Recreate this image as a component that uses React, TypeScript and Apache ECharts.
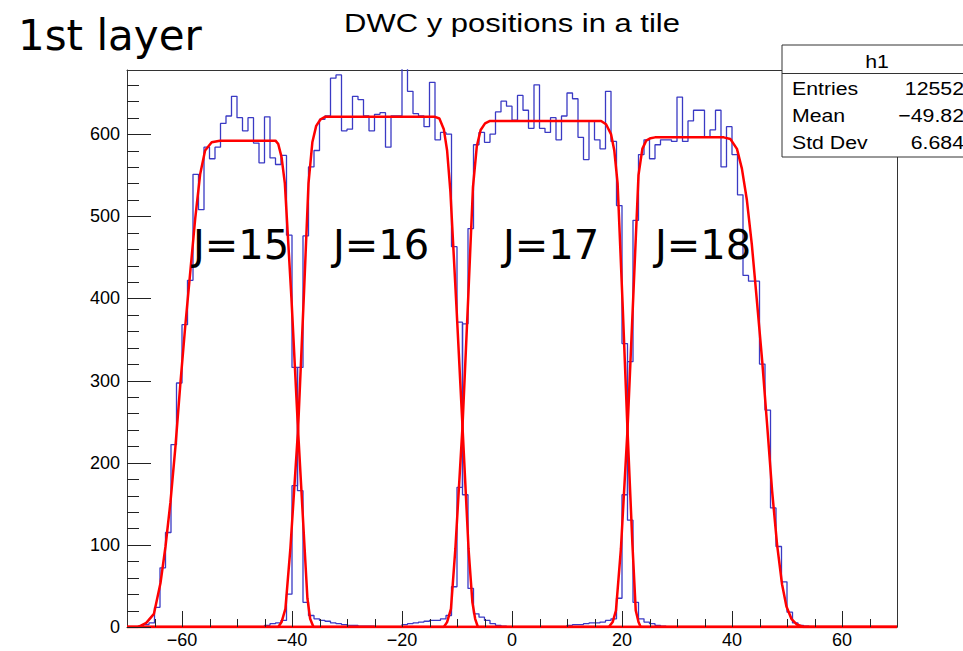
import React, { useEffect, useRef } from 'react';
import * as echarts from 'echarts';

// ---------- axes ----------
const X_MIN = -70;
const X_MAX = 70;
const Y_MIN = 0;
const Y_MAX = 678;

const xMajorTicks = [-60, -40, -20, 0, 20, 40, 60];
const xMinorTicks = [-65, -55, -50, -45, -35, -30, -25, -15, -10, -5, 5, 10, 15, 25, 30, 35, 45, 50, 55, 65];
const yMajorTicks = [0, 100, 200, 300, 400, 500, 600];
const yMinorTicks = [20, 40, 60, 80, 120, 140, 160, 180, 220, 240, 260, 280, 320, 340, 360, 380, 420, 440, 460, 480, 520, 540, 560, 580, 620, 640, 660];

// ---------- histograms (bin width 1, first bin low edge + counts) ----------
const j15Start = -68;
const j15Counts = [1, 3, 5, 24, 72, 115, 222, 297, 368, 422, 551, 508, 584, 570, 584, 613, 622, 646, 620, 604, 620, 589, 565, 621, 571, 563, 574, 477, 316, 166, 30, 14, 10, 8, 7, 5, 4, 3, 2, 2, 1, 1, 1];

const j16Start = -45;
const j16Counts = [2, 4, 5, 8, 40, 172, 316, 476, 560, 580, 618, 622, 668, 672, 604, 606, 646, 642, 622, 604, 624, 626, 584, 622, 622, 680, 652, 625, 622, 609, 663, 593, 602, 600, 463, 371, 161, 47, 16, 12, 8, 4, 2, 1];

const j17Start = -20;
const j17Counts = [3, 4, 5, 6, 7, 8, 8, 10, 14, 49, 170, 369, 485, 587, 602, 590, 600, 627, 640, 634, 617, 647, 629, 607, 660, 607, 602, 620, 593, 622, 650, 643, 596, 569, 616, 593, 582, 652, 591, 513, 345, 130, 30, 10, 6, 4, 2, 1];

const j18Start = 10;
const j18Counts = [2, 3, 3, 4, 5, 5, 6, 8, 10, 35, 161, 323, 495, 575, 593, 570, 587, 593, 593, 591, 645, 591, 616, 629, 629, 597, 605, 629, 560, 609, 575, 526, 428, 421, 421, 320, 264, 145, 98, 55, 18, 5, 2, 1];

// ---------- fit curves ----------
const fit15X = [-70, -68, -66.5, -65.1, -63.9, -63.0, -62.1, -61.2, -60.3, -59.4, -58.5, -57.6, -56.7, -55.8, -54.6, -53.1, -43.0, -42.5, -41.9, -41.3, -40.1, -38.9, -37.7, -37.2, -36.7, -36.1, 70];
const fit15Y = [0, 0, 5, 16, 54, 98, 152, 219, 296, 367, 432, 497, 551, 580, 590, 592, 592, 588, 572, 540, 400, 240, 95, 35, 10, 0, 0];

const fit16X = [-70, -42.5, -41.9, -41.2, -40.3, -38.9, -37.8, -37.0, -36.3, -35.6, -34.8, -34.0, -14.0, -13.2, -12.4, -11.8, -11.2, -10.1, -9.0, -7.9, -7.2, -6.7, -6.2, 70];
const fit16Y = [0, 0, 6, 22, 95, 240, 410, 540, 590, 610, 618, 621, 621, 619, 606, 580, 530, 390, 244, 95, 30, 10, 0, 0];

const fit17X = [-70, -12.4, -11.8, -11.1, -10.3, -9.0, -7.9, -7.1, -6.4, -5.7, -4.9, -4.0, 16.2, 17.1, 18.0, 18.6, 19.2, 20.1, 21.0, 21.9, 22.5, 23.0, 23.4, 70];
const fit17Y = [0, 0, 6, 22, 95, 244, 410, 535, 585, 605, 613, 616, 616, 612, 600, 580, 540, 395, 240, 100, 20, 6, 0, 0];

const fit18X = [-70, 17.6, 18.3, 18.9, 19.8, 21.0, 22.1, 23.0, 23.7, 24.4, 25.2, 26.0, 38.5, 39.7, 40.9, 41.8, 42.7, 43.6, 44.5, 45.5, 46.4, 47.3, 48.2, 49.1, 49.9, 50.8, 51.8, 53.0, 70];
const fit18Y = [0, 0, 6, 20, 95, 240, 410, 550, 582, 592, 595, 596, 596, 594, 582, 558, 520, 466, 399, 323, 245, 165, 100, 52, 25, 10, 3, 0, 0];

// ---------- texts ----------
const titleText = 'DWC y positions in a tile';
const layerText = '1st layer';
const tileLabels = ['J=15', 'J=16', 'J=17', 'J=18'];
const statsName = 'h1';
const statsKeys = ['Entries', 'Mean', 'Std Dev'];
const statsValues = ['12552', '\u221249.82', '6.684'];

// ---------- layout / style ----------
const GRID_LEFT = 127;
const GRID_TOP = 70;
const GRID_W = 770;
const GRID_H = 557;
const BLUE = '#3a3ac4';
const RED = '#ff0000';
const FRAME = '#222222';
const ROOT_FONT = '"Liberation Sans", Arial, Helvetica, sans-serif';
const SLIDE_FONT = '"DejaVu Sans", sans-serif';

function histData(start: number, counts: number[]): number[][] {
  const pts: number[][] = [];
  for (let b = X_MIN; b < X_MAX; b++) {
    const i = b - start;
    pts.push([b, i >= 0 && i < counts.length ? counts[i] : 0]);
  }
  pts.push([X_MAX, 0]);
  return pts;
}

function fitData(xs: number[], ys: number[]): number[][] {
  return xs.map((x, i) => [x, ys[i]]);
}

const fmtMinus = (v: number) => (v < 0 ? '\u2212' + Math.abs(v) : String(v));

// linear mapping of the grid (same extents as the axes) for the tick marks
const xToPx = (v: number) => GRID_LEFT + ((v - X_MIN) / (X_MAX - X_MIN)) * GRID_W;
const yToPx = (v: number) => GRID_TOP + GRID_H - ((v - Y_MIN) / (Y_MAX - Y_MIN)) * GRID_H;
const crisp = (p: number) => Math.round(p) + 0.5;

function buildTicks(): any[] {
  const out: any[] = [];
  const bottom = crisp(GRID_TOP + GRID_H) - 0.5;
  const left = crisp(GRID_LEFT) - 0.5;
  const addX = (v: number, len: number) => {
    const x = crisp(xToPx(v));
    out.push({ type: 'line', z: 95, silent: true, shape: { x1: x, y1: bottom, x2: x, y2: bottom - len }, style: { stroke: FRAME, lineWidth: 1 } });
  };
  const addY = (v: number, len: number) => {
    const y = crisp(yToPx(v));
    out.push({ type: 'line', z: 95, silent: true, shape: { x1: left, y1: y, x2: left + len, y2: y }, style: { stroke: FRAME, lineWidth: 1 } });
  };
  xMajorTicks.forEach((v) => addX(v, 16));
  xMinorTicks.forEach((v) => addX(v, 8));
  yMajorTicks.forEach((v) => addY(v, 24));
  yMinorTicks.forEach((v) => addY(v, 12));
  return out;
}

export default function App() {
  const ref = useRef<HTMLDivElement>(null);

  useEffect(() => {
    if (!ref.current) return;
    const chart = echarts.init(ref.current, undefined, { renderer: 'svg' });

    const hists = [
      [j15Start, j15Counts],
      [j16Start, j16Counts],
      [j17Start, j17Counts],
      [j18Start, j18Counts],
    ] as [number, number[]][];
    const fits = [
      [fit15X, fit15Y],
      [fit16X, fit16Y],
      [fit17X, fit17Y],
      [fit18X, fit18Y],
    ];

    const series: any[] = [];
    hists.forEach(([s, c], k) => {
      series.push({
        type: 'line',
        name: 'hist' + k,
        xAxisIndex: 0,
        yAxisIndex: 0,
        data: histData(s, c),
        step: 'end',
        symbol: 'none',
        showSymbol: false,
        silent: true,
        clip: true,
        lineStyle: { color: BLUE, width: 1.3 },
        z: 2,
      });
    });
    fits.forEach(([xs, ys], k) => {
      series.push({
        type: 'line',
        name: 'fit' + k,
        xAxisIndex: 0,
        yAxisIndex: 0,
        data: fitData(xs, ys),
        symbol: 'none',
        showSymbol: false,
        silent: true,
        clip: true,
        lineStyle: { color: RED, width: 2.5 },
        z: 3,
      });
    });

    const tileLabelX = [193, 333, 503, 655];

    const graphic: any[] = [
      {
        type: 'text',
        x: 512,
        y: 24,
        scaleX: 1.24,
        z: 100,
        style: { text: titleText, fontSize: 25, fontFamily: ROOT_FONT, fill: '#000', align: 'center', verticalAlign: 'middle' },
      },
      {
        type: 'text',
        x: 18,
        y: 35,
        z: 100,
        style: { text: layerText, fontSize: 42, fontFamily: SLIDE_FONT, fill: '#000', align: 'left', verticalAlign: 'middle' },
      },
      ...tileLabels.map((t, i) => ({
        type: 'text',
        x: tileLabelX[i],
        y: 245,
        z: 100,
        style: { text: t, fontSize: 40, fontFamily: SLIDE_FONT, fill: '#000', align: 'left', verticalAlign: 'middle' },
      })),
      ...buildTicks(),
      {
        type: 'rect',
        z: 96,
        shape: { x: 782, y: 45, width: 190, height: 112 },
        style: { fill: '#fff', stroke: '#333', lineWidth: 1 },
      },
      {
        type: 'line',
        z: 97,
        shape: { x1: 782, y1: 73.5, x2: 972, y2: 73.5 },
        style: { stroke: '#333', lineWidth: 1 },
      },
      {
        type: 'text',
        x: 877,
        y: 61.5,
        scaleX: 1.15,
        z: 100,
        style: { text: statsName, fontSize: 18.5, fontFamily: ROOT_FONT, fill: '#000', align: 'center', verticalAlign: 'middle' },
      },
      ...statsKeys.map((k, i) => ({
        type: 'text',
        x: 792,
        y: 88.3 + i * 27.1,
        scaleX: 1.15,
        z: 100,
        style: { text: k, fontSize: 18.5, fontFamily: ROOT_FONT, fill: '#000', align: 'left', verticalAlign: 'middle' },
      })),
      ...statsValues.map((v, i) => ({
        type: 'text',
        x: 964,
        y: 88.3 + i * 27.1,
        scaleX: 1.15,
        z: 100,
        style: { text: v, fontSize: 18.5, fontFamily: ROOT_FONT, fill: '#000', align: 'right', verticalAlign: 'middle' },
      })),
    ];

    const frameAxis = {
      axisLine: { show: true, onZero: false, lineStyle: { color: '#333', width: 1 } },
      splitLine: { show: false },
      axisTick: { show: false },
    };

    const option: any = {
      animation: false,
      backgroundColor: '#ffffff',
      grid: {
        left: GRID_LEFT,
        top: GRID_TOP,
        width: GRID_W,
        height: GRID_H,
        show: false,
        containLabel: false,
      },
      xAxis: [
        {
          type: 'value',
          min: X_MIN,
          max: X_MAX,
          position: 'bottom',
          ...frameAxis,
          axisLabel: {
            show: true,
            customValues: xMajorTicks,
            formatter: fmtMinus,
            fontSize: 18,
            fontFamily: ROOT_FONT,
            color: '#000',
            margin: 4,
          },
        },
        {
          type: 'value',
          min: X_MIN,
          max: X_MAX,
          position: 'top',
          ...frameAxis,
          axisLabel: { show: false },
        },
      ],
      yAxis: [
        {
          type: 'value',
          min: Y_MIN,
          max: Y_MAX,
          position: 'left',
          ...frameAxis,
          axisLabel: {
            show: true,
            customValues: yMajorTicks,
            fontSize: 18,
            fontFamily: ROOT_FONT,
            color: '#000',
            margin: 7,
          },
        },
        {
          type: 'value',
          min: Y_MIN,
          max: Y_MAX,
          position: 'right',
          ...frameAxis,
          axisLabel: { show: false },
        },
      ],
      series,
      graphic,
    };

    chart.setOption(option);

    return () => {
      chart.dispose();
    };
  }, []);

  return (
    <div
      ref={ref}
      style={{ position: 'absolute', left: 0, top: 0, width: 963, height: 651, background: '#fff' }}
    />
  );
}
